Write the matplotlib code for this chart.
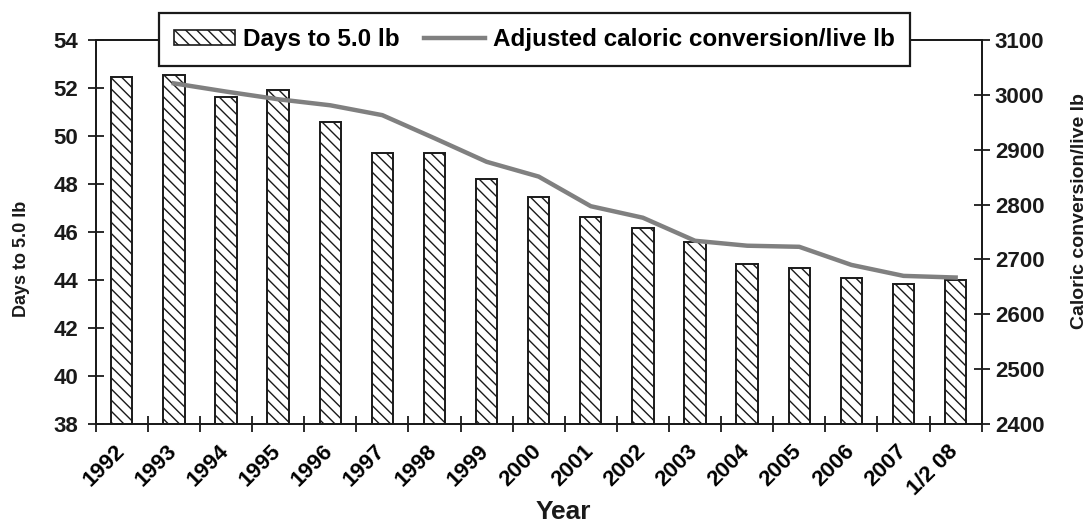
import numpy as np
import matplotlib
matplotlib.use("Agg")
import matplotlib.pyplot as plt
import matplotlib.transforms as mtransforms
from matplotlib.lines import Line2D
from matplotlib.patches import Patch

plt.rcParams['font.family'] = ['Liberation Sans', 'DejaVu Sans']
plt.rcParams['font.weight'] = 'bold'
plt.rcParams['hatch.linewidth'] = 1.0

# data
years = ["1992", "1993", "1994", "1995", "1996", "1997", "1998", "1999", "2000",
         "2001", "2002", "2003", "2004", "2005", "2006", "2007", "1/2 08"]
days_to_5lb = [52.45, 52.53, 51.61, 51.93, 50.6, 49.28, 49.28, 48.19, 47.44,
               46.61, 46.18, 45.6, 44.68, 44.51, 44.08, 43.85, 44.0]
# caloric conversion starts in 1993
cal_conv = [3021, 3006, 2992, 2981, 2963, 2921, 2878, 2851,
            2797, 2776, 2734, 2725, 2723, 2690, 2670, 2667]

x = np.arange(len(years))
xc = x[1:]
ink = '#1a1a1a'

fig = plt.figure(figsize=(10.92, 5.25), dpi=100)
ax = fig.add_axes([0.0876, 0.1924, 0.8114, 0.7314])
ax2 = ax.twinx()

ax.bar(x, np.array(days_to_5lb) - 38, bottom=38, width=0.41, color='white',
       edgecolor=ink, linewidth=1.4, hatch='\\\\\\', zorder=2)
ax2.plot(xc, cal_conv, color='#808080', linewidth=3.2, zorder=3)

ax.set_xlim(-0.5, len(years) - 0.5)
ax.set_ylim(38, 54)
ax2.set_ylim(2400, 3100)
ax.set_yticks(np.arange(38, 55, 2))
ax2.set_yticks(np.arange(2400, 3101, 100))

# boundary ticks, labels at the centres
ax.set_xticks(np.arange(-0.5, len(years), 1.0))
ax.set_xticklabels([])
ax.set_xticks(x, minor=True)
ax.set_xticklabels(years, minor=True, rotation=45, ha='right', va='top', fontsize=16)
ax.tick_params(axis='x', which='minor', length=0, pad=12)
shift = mtransforms.ScaledTranslation(7 / 100, 0, fig.dpi_scale_trans)
for lab in ax.get_xticklabels(minor=True):
    lab.set_transform(lab.get_transform() + shift)

for a in (ax, ax2):
    a.tick_params(axis='both', which='major', direction='inout', length=11,
                  width=1.3, color=ink, labelsize=16, labelcolor=ink)
    for s in a.spines.values():
        s.set_color(ink)
        s.set_linewidth(1.3)
ax.tick_params(axis='y', pad=7)
ax2.tick_params(axis='y', pad=4)

fig.text(22 / 1092, 1 - 259 / 525, "Days to 5.0 lb", rotation=90, ha='center',
         va='center', fontsize=13, color=ink)
fig.text(1079 / 1092, 1 - 211 / 525, "Caloric conversion/live lb", rotation=90,
         ha='center', va='center', fontsize=14, color=ink)
fig.text(563 / 1092, 1 / 525, "Year", ha='center', va='bottom',
         fontsize=19, color=ink)

handles = [Patch(facecolor='white', edgecolor=ink, hatch='\\\\\\', linewidth=1.2),
           Line2D([0], [0], color='#808080', linewidth=3.2)]
leg = fig.legend(handles, ["Days to 5.0 lb", "Adjusted caloric conversion/live lb"],
                 loc='center', bbox_to_anchor=(534.5 / 1092, 1 - 39.5 / 525), ncol=2,
                 fontsize=17.5, frameon=True, fancybox=False, framealpha=1,
                 edgecolor=ink, handlelength=2.5, handleheight=0.6,
                 handletextpad=0.35, columnspacing=1.0, borderpad=0.6)
leg.get_frame().set_linewidth(1.6)

fig.savefig("out.png", dpi=100)
